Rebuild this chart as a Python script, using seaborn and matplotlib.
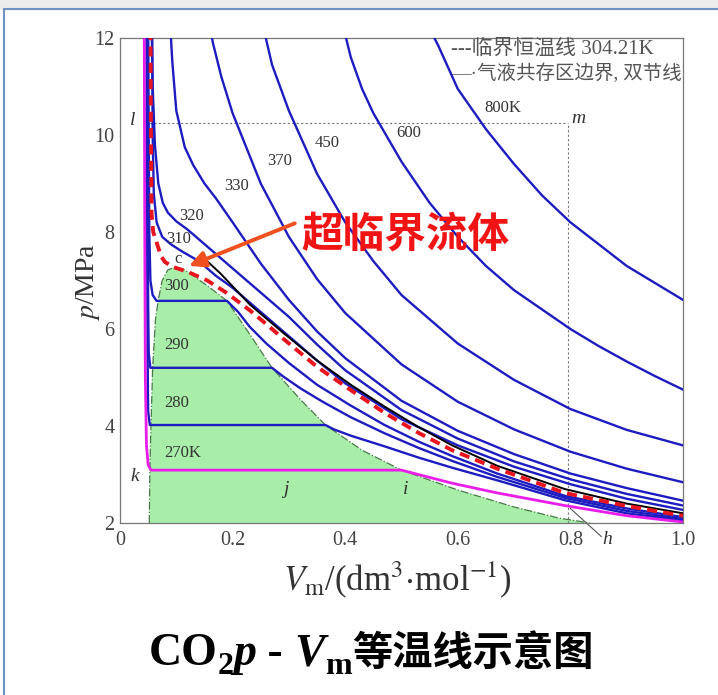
import numpy as np
import pandas as pd
import matplotlib
matplotlib.use("Agg")
import matplotlib.pyplot as plt
import seaborn as sns
from matplotlib.patches import FancyArrowPatch

# isotherm data: Vm in dm3/mol, p in MPa
v_800 = [0.545, 0.565, 0.60, 0.65, 0.70, 0.75, 0.80, 0.85, 0.90, 0.95, 1.00]
p_800 = [12.3, 11.85, 10.95, 10.12, 9.4, 8.75, 8.2, 7.75, 7.3, 6.95, 6.6]

v_600 = [0.395, 0.41, 0.43, 0.45, 0.50, 0.55, 0.60, 0.65, 0.70, 0.75, 0.80, 0.85, 0.90, 0.95, 1.00]
p_600 = [12.3, 11.6, 10.95, 10.45, 9.45, 8.6, 7.9, 7.3, 6.8, 6.4, 6.0, 5.65, 5.33, 5.03, 4.75]

v_450 = [0.255, 0.27, 0.30, 0.35, 0.40, 0.45, 0.50, 0.60, 0.70, 0.80, 0.90, 1.00]
p_450 = [12.2, 11.45, 10.5, 9.2, 8.2, 7.4, 6.7, 5.7, 4.95, 4.35, 3.92, 3.6]

v_370 = [0.155, 0.165, 0.18, 0.20, 0.25, 0.30, 0.35, 0.40, 0.50, 0.60, 0.70, 0.80, 0.90, 1.00]
p_370 = [12.5, 11.9, 11.2, 10.45, 9.0, 7.9, 7.03, 6.33, 5.27, 4.5, 3.93, 3.47, 3.12, 2.84]

v_330 = [0.088, 0.093, 0.10, 0.115, 0.13, 0.15, 0.17, 0.20, 0.25, 0.30, 0.35, 0.40, 0.50, 0.60, 0.70, 0.80, 0.90, 1.00]
p_330 = [12.5, 11.5, 10.5, 9.75, 9.38, 9.0, 8.7, 8.2, 7.35, 6.6, 5.95, 5.4, 4.52, 3.9, 3.42, 3.02, 2.72, 2.46]

v_320 = [0.056, 0.058, 0.062, 0.068, 0.076, 0.085, 0.10, 0.12, 0.15, 0.20, 0.25, 0.30, 0.35, 0.40, 0.50, 0.60, 0.70, 0.80, 0.90, 1.00]
p_320 = [12.5, 11.0, 9.8, 9.0, 8.6, 8.4, 8.22, 8.05, 7.75, 7.25, 6.75, 6.25, 5.68, 5.15, 4.33, 3.74, 3.27, 2.9, 2.6, 2.36]

v_310 = [0.057, 0.058, 0.060, 0.065, 0.075, 0.09, 0.11, 0.14, 0.17, 0.20, 0.25, 0.30, 0.35, 0.40, 0.50, 0.60, 0.70, 0.80, 0.90, 1.00]
p_310 = [12.5, 10.0, 8.8, 8.2, 7.9, 7.75, 7.6, 7.4, 7.1, 6.85, 6.35, 5.85, 5.35, 4.88, 4.14, 3.6, 3.16, 2.8, 2.5, 2.27]

v_crit = [0.054, 0.055, 0.056, 0.059, 0.066, 0.073, 0.08, 0.094, 0.12, 0.155, 0.19, 0.23, 0.26, 0.29, 0.35, 0.41, 0.47, 0.53, 0.59, 0.67, 0.79, 0.90, 1.00]
p_crit = [12.5, 10.0, 8.4, 8.0, 7.75, 7.5, 7.38, 7.28, 7.18, 7.0, 6.74, 6.39, 6.1, 5.8, 5.22, 4.74, 4.27, 3.86, 3.5, 3.12, 2.62, 2.35, 2.15]

v_black = [0.15, 0.178, 0.231, 0.29, 0.35, 0.41, 0.47, 0.53, 0.59, 0.67, 0.79, 0.90, 1.00]
p_black = [7.45, 7.15, 6.5, 5.92, 5.35, 4.85, 4.4, 3.98, 3.6, 3.18, 2.7, 2.4, 2.2]

v_300 = [0.050, 0.051, 0.052, 0.054, 0.058, 0.065, 0.19, 0.21, 0.23, 0.26, 0.30, 0.35, 0.41, 0.47, 0.53, 0.59, 0.67, 0.79, 0.90, 1.00]
p_300 = [12.5, 10.0, 8.0, 7.0, 6.7, 6.58, 6.58, 6.35, 6.05, 5.7, 5.3, 4.85, 4.42, 4.02, 3.68, 3.38, 3.02, 2.56, 2.3, 2.12]

v_290 = [0.048, 0.049, 0.050, 0.051, 0.054, 0.27, 0.29, 0.32, 0.36, 0.41, 0.47, 0.53, 0.59, 0.67, 0.79, 0.90, 1.00]
p_290 = [12.5, 9.0, 6.5, 5.5, 5.2, 5.2, 5.02, 4.78, 4.5, 4.18, 3.85, 3.55, 3.28, 2.95, 2.52, 2.25, 2.08]

v_280 = [0.047, 0.048, 0.049, 0.050, 0.053, 0.365, 0.38, 0.41, 0.47, 0.53, 0.59, 0.67, 0.79, 0.90, 1.00]
p_280 = [12.5, 8.0, 5.5, 4.3, 4.02, 4.02, 3.93, 3.8, 3.58, 3.35, 3.14, 2.88, 2.47, 2.2, 2.05]

v_270 = [0.043, 0.044, 0.045, 0.047, 0.050, 0.055, 0.50, 0.53, 0.59, 0.67, 0.79, 0.90, 1.00]
p_270 = [12.5, 8.0, 5.0, 3.6, 3.2, 3.09, 3.09, 3.0, 2.82, 2.62, 2.36, 2.15, 2.02]

# two-phase dome (binodal)
v_dome = [0.052, 0.053, 0.055, 0.058, 0.063, 0.068, 0.075, 0.085, 0.10, 0.115, 0.13, 0.16, 0.19,
          0.23, 0.27, 0.32, 0.365, 0.43, 0.50, 0.60, 0.70, 0.78, 0.835]
p_dome = [2.0, 3.1, 4.0, 5.2, 6.2, 6.6, 7.0, 7.22, 7.28, 7.22, 7.1, 6.85, 6.58,
          5.9, 5.2, 4.55, 4.02, 3.5, 3.09, 2.68, 2.33, 2.1, 2.0]

labels = ["800K", "600", "450", "370", "330", "320", "310", "c", "300", "290", "280", "270K"]
label_v = [0.648, 0.490, 0.345, 0.262, 0.185, 0.105, 0.082, 0.096, 0.078, 0.078, 0.078, 0.078]
label_p = [10.55, 10.05, 9.84, 9.47, 8.95, 8.33, 7.85, 7.45, 6.88, 5.67, 4.48, 3.45]

sns.set_theme(style="white")
plt.rcParams["font.family"] = ["Liberation Serif", "Noto Sans CJK SC"]
plt.rcParams["mathtext.fontset"] = "stix"

fig = plt.figure(figsize=(7.18, 6.95), dpi=100)
fig.patch.set_facecolor("white")
ax = fig.add_axes([120 / 718, 1 - 523 / 695, 563 / 718, 485 / 695])

# slide frame
fig.add_artist(plt.Rectangle((0, 1 - 9 / 695), 1, 9 / 695, transform=fig.transFigure,
                             color="#ececec", zorder=0))
fig.add_artist(plt.Line2D([4 / 718, 4 / 718], [0, 1 - 9 / 695], transform=fig.transFigure,
                          color="#7090c8", lw=1.5))
fig.add_artist(plt.Line2D([4 / 718, 1], [1 - 9 / 695, 1 - 9 / 695], transform=fig.transFigure,
                          color="#7090c8", lw=1.5))

# green two-phase region
dome_x = v_dome + [v_dome[0]]
dome_y = p_dome + [p_dome[0]]
ax.fill(dome_x, dome_y, color="#a8eea8", lw=0, zorder=1)
ax.plot(v_dome, p_dome, color="#4a7a4a", lw=0.9, ls="-.", zorder=2)

blue = "#1c1cc0"
curves = [
    (v_800, p_800), (v_600, p_600), (v_450, p_450), (v_370, p_370),
    (v_330, p_330), (v_320, p_320), (v_310, p_310),
    (v_300, p_300), (v_290, p_290), (v_280, p_280),
]
for vv, pp in curves:
    sns.lineplot(x=vv, y=pp, ax=ax, sort=False, estimator=None, color=blue, lw=1.7, zorder=3)

sns.lineplot(x=v_270, y=p_270, ax=ax, sort=False, estimator=None, color="#e81ee8", lw=2.0, zorder=3)
sns.lineplot(x=v_black, y=p_black, ax=ax, sort=False, estimator=None, color="black", lw=1.4, zorder=4)
ax.plot(v_crit, p_crit, color="#e8141e", lw=2.8, dashes=(2.6, 1.6), zorder=5)

# reference lines l-m
ax.plot([0.045, 0.795], [10.25, 10.25], color="#777777", lw=0.8, ls=(0, (2, 2)), zorder=2)
ax.plot([0.795, 0.795], [2.0, 10.25], color="#777777", lw=0.8, ls=(0, (2, 2)), zorder=2)
ax.plot([0.80, 0.855], [2.3, 1.72], color="#555555", lw=0.8, clip_on=False, zorder=2)

for s, xv, yv in zip(labels, label_v, label_p):
    ax.text(xv, yv, s, fontsize=12, color="#333333", va="center", ha="left", zorder=6)

for s, xv, yv in [("l", 0.022, 10.3), ("m", 0.815, 10.35), ("k", 0.027, 2.95),
                  ("j", 0.295, 2.7), ("i", 0.508, 2.7), ("h", 0.865, 1.65)]:
    ax.text(xv, yv, s, fontsize=14, style="italic", color="#333333", va="center", ha="center",
            zorder=6, clip_on=False)

# legend text
ax.text(0.588, 11.77, "---临界恒温线 304.21K", fontsize=15, color="#555555", va="center", ha="left")
ax.text(0.588, 11.28, "—·气液共存区边界, 双节线", fontsize=14, color="#555555", va="center", ha="left")

# supercritical fluid note
ax.text(0.506, 7.94, "超临界流体", fontsize=30, color="#f01414", fontweight="bold",
        family=["Noto Sans CJK SC"], va="center", ha="center", zorder=7)
arrow = FancyArrowPatch((0.315, 8.2), (0.118, 7.28), arrowstyle="-|>", mutation_scale=24,
                        color="#f0501e", lw=2.8, zorder=7)
ax.add_patch(arrow)

ax.set_xlim(0, 1.0)
ax.set_ylim(2, 12)
ax.set_xticks([0, 0.2, 0.4, 0.6, 0.8, 1.0])
ax.set_xticklabels(["0", "0.2", "0.4", "0.6", "0.8", "1.0"])
ax.set_yticks([2, 4, 6, 8, 10, 12])
ax.set_xticks(np.arange(0, 1.01, 0.1), minor=True)
ax.set_yticks(np.arange(2, 12.1, 1), minor=True)
ax.tick_params(which="both", direction="in", colors="#555555", labelsize=14.5,
               labelcolor="#444444")
ax.tick_params(axis="x", pad=6)
ax.tick_params(axis="y", pad=4)
ax.tick_params(which="major", length=5)
ax.tick_params(which="minor", length=3)
for sp in ax.spines.values():
    sp.set_color("#777777")
    sp.set_linewidth(0.9)
ax.set_xlabel(r"$V_{\rm m}$/(dm$^3$$\cdot$mol$^{-1}$)", fontsize=25, color="#333333")
ax.xaxis.set_label_coords(0.492, -0.075)
ax.set_ylabel(r"$p$/MPa", fontsize=20, color="#333333")
ax.yaxis.set_label_coords(-0.032, 0.497)

# bottom caption assembled from pieces
renderer = fig.canvas.get_renderer()
base = 1 - 665 / 695
pieces = [
    ("CO", dict(fontsize=33, fontweight="bold", family=["Liberation Serif"]), 0),
    ("2", dict(fontsize=23, fontweight="bold", family=["Liberation Serif"]), -9),
    ("p", dict(fontsize=33, fontweight="bold", style="italic", family=["Liberation Serif"]), 0),
    (" - ", dict(fontsize=33, fontweight="bold", family=["Liberation Serif"]), 0),
    ("V", dict(fontsize=33, fontweight="bold", style="italic", family=["Liberation Serif"]), 0),
    ("m", dict(fontsize=23, fontweight="bold", family=["Liberation Serif"]), -9),
    ("等温线示意图", dict(fontsize=29, fontweight="bold", family=["Noto Sans CJK SC"]), 0),
]
texts = []
x = 0.0
for s, kw, dy in pieces:
    t = fig.text(0, 0, s, va="baseline", ha="left", color="black", **kw)
    w = t.get_window_extent(renderer).width
    texts.append((t, x, dy))
    x += w
start = 371 - x / 2
for t, xo, dy in texts:
    t.set_position(((start + xo) / 718, base + dy / 695))

fig.savefig("out.png", dpi=100)
